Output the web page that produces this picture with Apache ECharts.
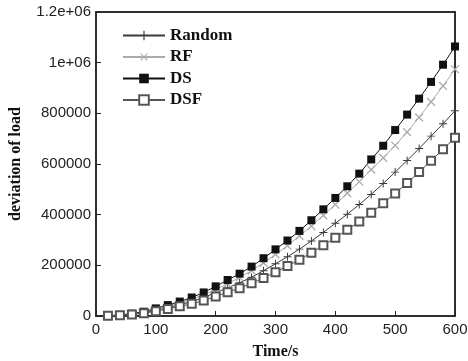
<!DOCTYPE html>
<html>
<head>
<meta charset="utf-8">
<script src="https://cdn.jsdelivr.net/npm/echarts@6/dist/echarts.min.js"></script>
<style>
  html, body { margin: 0; padding: 0; background: #fff; }
  #chart { width: 468px; height: 361px; }
</style>
</head>
<body>
<div id="chart"></div>
<script>
const times = [20, 40, 60, 80, 100, 120, 140, 160, 180, 200, 220, 240, 260, 280, 300,
  320, 340, 360, 380, 400, 420, 440, 460, 480, 500, 520, 540, 560, 580, 600]

const randomLoad = [1000, 3000, 7000, 13000, 23000, 33000, 44000, 57000, 73000, 92000,
  111000, 131000, 153000, 179000, 206000, 234000, 264000, 296000, 330000, 366000,
  402000, 440000, 480000, 523000, 568000, 614000, 661000, 710000, 759000, 810000]

const rfLoad = [1000, 3500, 8000, 15000, 26000, 38000, 51000, 66000, 84000, 105000,
  128000, 152000, 179000, 210000, 243000, 278000, 316000, 355000, 397000, 440000,
  485000, 530000, 578000, 624000, 673000, 726000, 784000, 845000, 908000, 974000]

const dsLoad = [1000, 4000, 9000, 17000, 30000, 43000, 57000, 73000, 93000, 117000,
  142000, 167000, 195000, 228000, 263000, 298000, 336000, 378000, 421000, 466000,
  512000, 562000, 618000, 672000, 734000, 795000, 858000, 924000, 992000, 1064000]

const dsfLoad = [500, 2500, 6000, 11000, 19000, 28000, 38000, 48000, 61000, 77000,
  94000, 110000, 129000, 150000, 173000, 197000, 222000, 250000, 279000, 309000,
  340000, 373000, 408000, 445000, 484000, 525000, 568000, 613000, 658000, 704000]

const yTickLabels = ['0', '200000', '400000', '600000', '800000', '1e+06', '1.2e+06']

// thin "+" made of two filled bars; rotated 45 deg it becomes the RF "x"
const plusPath = 'path://M0,4.4L10,4.4L10,5.6L0,5.6Z M4.4,0L5.6,0L5.6,10L4.4,10Z'

const pairs = arr => times.map((t, i) => [t, arr[i]])

const chart = echarts.init(document.getElementById('chart'))

function lineSeries(name, data, color, symbol, size, extra) {
  return Object.assign({
    name: name,
    type: 'line',
    xAxisIndex: 0,
    yAxisIndex: 0,
    data: pairs(data),
    symbol: symbol,
    symbolSize: size,
    showAllSymbol: true,
    animation: false,
    lineStyle: { color: color, width: 1 },
    itemStyle: { color: color }
  }, extra || {})
}

const frameLine = { show: true, onZero: false, lineStyle: { color: '#222', width: 1.5 } }

chart.setOption({
  backgroundColor: '#fff',
  animation: false,
  grid: {
    left: 96, right: 13, top: 12, bottom: 45, outerBoundsMode: 'none', containLabel: false,
    show: true, borderColor: '#222', borderWidth: 1.5, backgroundColor: 'transparent'
  },
  legend: {
    orient: 'vertical',
    left: 117,
    top: 22,
    itemWidth: 42,
    itemHeight: 12,
    itemGap: 4.5,
    textStyle: { fontFamily: 'Liberation Serif', fontWeight: 'bold', fontSize: 17, color: '#111', lineHeight: 17 },
    data: ['Random', 'RF', 'DS', 'DSF']
  },
  xAxis: [{
    type: 'value',
    min: 0, max: 600, interval: 100,
    name: 'Time/s',
    nameLocation: 'middle',
    nameGap: 28,
    nameTextStyle: { fontFamily: 'Liberation Serif', fontWeight: 'bold', fontSize: 16, color: '#111' },
    axisLine: frameLine,
    axisTick: { inside: true, length: 5, lineStyle: { color: '#222' } },
    axisLabel: { fontFamily: 'Liberation Sans', fontSize: 15, color: '#222', margin: 6 },
    splitLine: { show: false }
  }, {
    type: 'value', position: 'top', min: 0, max: 600,
    axisLine: frameLine, axisTick: { show: false }, axisLabel: { show: false }, splitLine: { show: false }
  }],
  yAxis: [{
    type: 'value',
    min: 0, max: 1200000, interval: 200000,
    name: 'deviation of load',
    nameLocation: 'middle',
    nameGap: 72,
    nameTextStyle: { fontFamily: 'Liberation Serif', fontWeight: 'bold', fontSize: 16, color: '#111' },
    axisLine: frameLine,
    axisTick: { inside: true, length: 5, lineStyle: { color: '#222' } },
    axisLabel: {
      fontFamily: 'Liberation Sans', fontSize: 15, color: '#222', margin: 5,
      formatter: (v) => yTickLabels[Math.round(v / 200000)]
    },
    splitLine: { show: false }
  }, {
    type: 'value', position: 'right', min: 0, max: 1200000,
    axisLine: frameLine, axisTick: { show: false }, axisLabel: { show: false }, splitLine: { show: false }
  }],
  series: [
    lineSeries('Random', randomLoad, '#3a3a3a', plusPath, 8),
    lineSeries('RF', rfLoad, '#aaaaaa', plusPath, 11, { symbolRotate: 45 }),
    lineSeries('DS', dsLoad, '#111111', 'rect', 8),
    lineSeries('DSF', dsfLoad, '#555555', 'emptyRect', 8, {
      itemStyle: { color: '#555555', borderWidth: 1.2 }
    })
  ]
})
</script>
</body>
</html>
